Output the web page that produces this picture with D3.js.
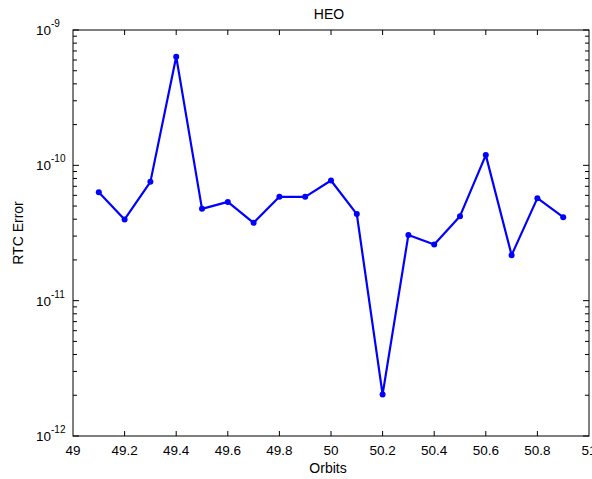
<!DOCTYPE html>
<html>
<head>
<meta charset="utf-8">
<script src="https://cdn.jsdelivr.net/npm/d3@7"></script>
<style>
  html, body { margin: 0; padding: 0; background: #fff; }
  svg { display: block; font-family: "Liberation Sans", Arial, sans-serif; }
</style>
</head>
<body>
<svg id="chart" width="592" height="479"></svg>
<script>
// ---- data ----
const orbits = [49.1, 49.2, 49.3, 49.4, 49.5, 49.6, 49.7, 49.8, 49.9, 50.0,
                50.1, 50.2, 50.3, 50.4, 50.5, 50.6, 50.7, 50.8, 50.9];
const rtcError = [6.33e-11, 3.98e-11, 7.55e-11, 6.35e-10, 4.77e-11, 5.37e-11, 3.76e-11, 5.85e-11, 5.85e-11, 7.73e-11,
                  4.36e-11, 2.03e-12, 3.06e-11, 2.60e-11, 4.21e-11, 1.19e-10, 2.17e-11, 5.72e-11, 4.14e-11];
const xTicks = [49, 49.2, 49.4, 49.6, 49.8, 50, 50.2, 50.4, 50.6, 50.8, 51];
const yExponents = [-9, -10, -11, -12];
const title = "HEO";
const xLabel = "Orbits";
const yLabel = "RTC Error";

// ---- layout ----
const L = 73, R = 589, T = 30, B = 436;
const svg = d3.select("#chart");
const x = d3.scaleLinear().domain([49, 51]).range([L, R]);
const y = d3.scaleLog().domain([1e-12, 1e-9]).range([B, T]);

// minor ticks
const minor = [];
for (let e = -12; e < -9; e++) for (let m = 2; m <= 9; m++) minor.push(m * Math.pow(10, e));

const g = svg.append("g");

// x ticks bottom & top (inward)
const xInner = xTicks.slice(1, -1);
g.selectAll(".xtb").data(xInner).join("line")
  .attr("x1", d => x(d)).attr("x2", d => x(d))
  .attr("y1", B).attr("y2", B - 5).attr("stroke", "#000");
g.selectAll(".xtt").data(xInner).join("line")
  .attr("x1", d => x(d)).attr("x2", d => x(d))
  .attr("y1", T).attr("y2", T + 5).attr("stroke", "#000");

// y minor ticks left & right
g.selectAll(".ymL").data(minor).join("line")
  .attr("x1", L).attr("x2", L + 4)
  .attr("y1", d => y(d)).attr("y2", d => y(d)).attr("stroke", "#000");
g.selectAll(".ymR").data(minor).join("line")
  .attr("x1", R).attr("x2", R - 4)
  .attr("y1", d => y(d)).attr("y2", d => y(d)).attr("stroke", "#000");
// y major ticks
g.selectAll(".yML").data(yExponents).join("line")
  .attr("x1", L).attr("x2", L + 6)
  .attr("y1", d => y(Math.pow(10, d))).attr("y2", d => y(Math.pow(10, d))).attr("stroke", "#000");
g.selectAll(".yMR").data(yExponents).join("line")
  .attr("x1", R).attr("x2", R - 6)
  .attr("y1", d => y(Math.pow(10, d))).attr("y2", d => y(Math.pow(10, d))).attr("stroke", "#000");

// frame
g.append("rect").attr("x", L).attr("y", T).attr("width", R - L).attr("height", B - T)
  .attr("fill", "none").attr("stroke", "#000").attr("stroke-width", 1);

// x tick labels
g.selectAll(".xl").data(xTicks).join("text")
  .attr("x", d => x(d)).attr("y", 455)
  .attr("text-anchor", "middle").attr("font-size", "13.5px").attr("fill", "#000")
  .text(d => d3.format("~g")(d));

// y tick labels: 10^e
const yl = g.selectAll(".yl").data(yExponents).join("text")
  .attr("x", 36).attr("y", d => y(Math.pow(10, d)) + 5)
  .attr("font-size", "13.5px").attr("fill", "#000");
yl.append("tspan").text("10");
yl.append("tspan").attr("dy", -8).attr("font-size", "10px").text(d => String(d));

// line and markers
const pts = orbits.map((o, i) => [o, rtcError[i]]);
g.append("path").datum(pts)
  .attr("fill", "none").attr("stroke", "#0000ff").attr("stroke-width", 2.2)
  .attr("stroke-linejoin", "round")
  .attr("d", d3.line().x(d => x(d[0])).y(d => y(d[1])));
g.selectAll(".pt").data(pts).join("circle")
  .attr("cx", d => x(d[0])).attr("cy", d => y(d[1])).attr("r", 3)
  .attr("fill", "#0000ff");

// titles
svg.append("text").attr("x", (L + R) / 2 - 2).attr("y", 18.5)
  .attr("text-anchor", "middle").attr("font-size", "14px").text(title);
svg.append("text").attr("x", (L + R) / 2 - 3).attr("y", 473)
  .attr("text-anchor", "middle").attr("font-size", "14px").text(xLabel);
svg.append("text").attr("transform", `translate(22.5,${(T + B) / 2}) rotate(-90)`)
  .attr("text-anchor", "middle").attr("font-size", "14px").text(yLabel);
</script>
</body>
</html>
